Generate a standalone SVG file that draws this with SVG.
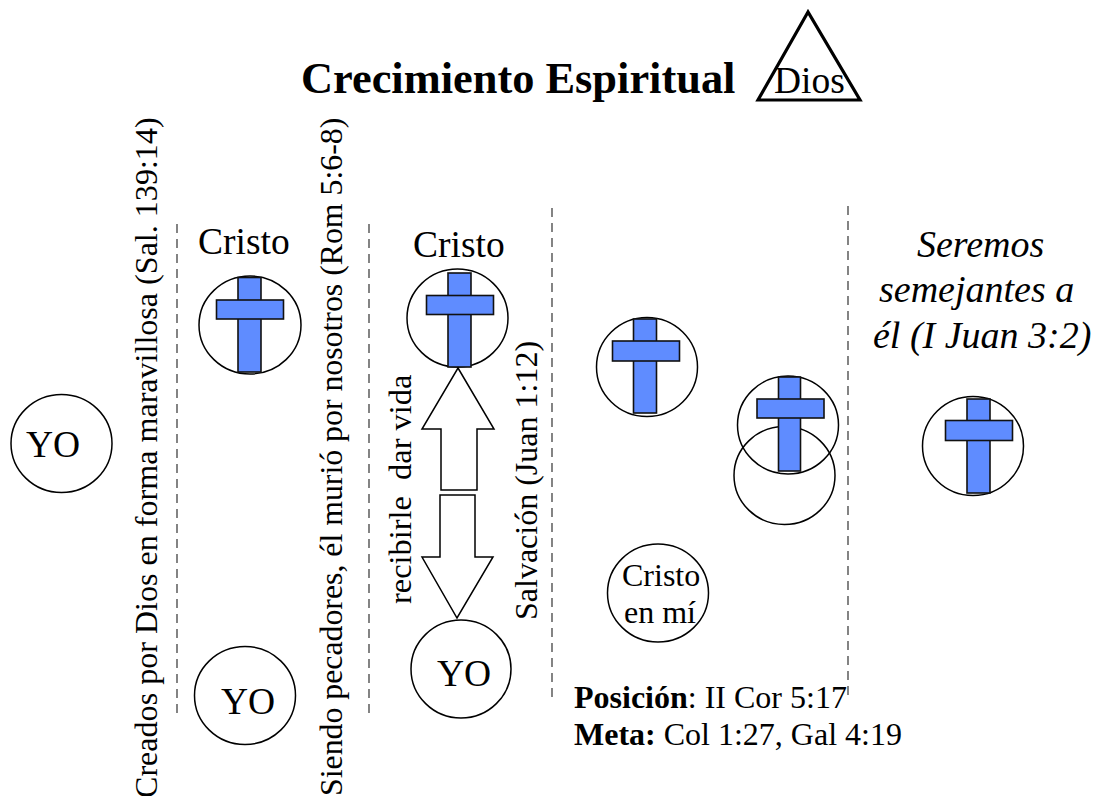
<svg xmlns="http://www.w3.org/2000/svg" width="1094" height="796" viewBox="0 0 1094 796">
<style>
text{font-family:"Liberation Serif","Times New Roman",serif;fill:#000}
.c{fill:none;stroke:#000;stroke-width:1.5}
.w{fill:#fff;stroke:#000;stroke-width:1.5}
.b{fill:#5f8cff;stroke:#111;stroke-width:1.6}
.d{fill:none;stroke:#333;stroke-width:1.2;stroke-dasharray:9 6}
.l{font-size:37.500px}
.s{font-size:32px}
.v{font-size:32px}
.i{font-size:38px;font-style:italic}
.r{font-size:32px}
</style>
<g id="title">
<text x="301" y="93" font-size="44.400" font-weight="bold">Crecimiento Espiritual</text>
</g>
<g id="dios">
<polygon points="808,12 758,100 860,100" fill="none" stroke="#000" stroke-width="3.2"/>
<text x="774" y="93" font-size="37.500">Dios</text>
</g>
<g id="connectors">
<line class="d" x1="177" y1="224" x2="177" y2="714"/>
<line class="d" x1="369" y1="224" x2="369" y2="716"/>
<line class="d" x1="552" y1="208" x2="552" y2="700"/>
<line class="d" x1="848" y1="206" x2="848" y2="695"/>
</g>
<g id="vtext">
<text class="v" style="font-size:32.100px" transform="translate(157,798) rotate(-90)">Creados por Dios en forma maravillosa (Sal. 139:14)</text>
<text class="v" style="font-size:31.800px" transform="translate(342,796) rotate(-90)">Siendo pecadores, él murió por nosotros (Rom 5:6-8)</text>
<text class="v" style="font-size:32.400px" transform="translate(411,604) rotate(-90)" xml:space="preserve">recibirle  dar vida</text>
<text class="v" transform="translate(537,620) rotate(-90)">Salvación (Juan 1:12)</text>
</g>
<g id="yo1"><ellipse class="c" cx="61.500" cy="443.500" rx="50.500" ry="49"/><text class="l" x="26" y="457">YO</text></g>
<g id="yo2"><ellipse class="c" cx="245" cy="695.500" rx="50.500" ry="49"/><text class="l" x="221" y="714">YO</text></g>
<g id="cristo1">
<text class="l" x="198" y="254">Cristo</text>
<ellipse class="c" cx="250" cy="325" rx="51" ry="49"/>
<rect class="b" x="238" y="277.500" width="23" height="94.500"/><rect class="b" x="216.500" y="300" width="67" height="19"/>
</g>
<g id="cristo2">
<text class="l" x="413" y="257">Cristo</text>
<ellipse class="c" cx="457.500" cy="318" rx="50.500" ry="49"/>
<rect class="b" x="448" y="273" width="23" height="94"/><rect class="b" x="426.500" y="295.500" width="67" height="19"/>
</g>
<g id="arrow-up"><polygon class="w" points="458,368 494,429 477,429 477,490 441,490 441,429 422,429"/></g>
<g id="arrow-down"><polygon class="w" points="440,495 475,495 475,557 493,557 457,618 422,557 440,557"/></g>
<g id="yo3"><ellipse class="c" cx="461" cy="669" rx="50" ry="49"/><text class="l" x="437" y="686">YO</text></g>
<g id="cruz3">
<ellipse class="c" cx="647" cy="367" rx="50.500" ry="49.500"/>
<rect class="b" x="633.500" y="319" width="23" height="94"/><rect class="b" x="612.500" y="341" width="67" height="20"/>
</g>
<g id="cruz4">
<ellipse class="c" cx="784.500" cy="475.500" rx="50.500" ry="49"/>
<ellipse class="c" cx="788" cy="425" rx="50.500" ry="49"/>
<rect class="b" x="778.500" y="377" width="22" height="94"/><rect class="b" x="757" y="399" width="67" height="19"/>
</g>
<g id="cristo-en-mi">
<ellipse class="c" cx="658" cy="593" rx="50.500" ry="49"/>
<text class="s" x="622" y="586">Cristo</text>
<text class="s" x="624" y="623">en mí</text>
</g>
<g id="refs">
<text class="r" x="574" y="708"><tspan font-weight="bold">Posición</tspan>: II Cor 5:17</text>
<text class="r" x="574" y="745"><tspan font-weight="bold">Meta:</tspan> Col 1:27, Gal 4:19</text>
</g>
<g id="semejantes">
<text class="i" x="917" y="257">Seremos</text>
<text class="i" x="879" y="302">semejantes a</text>
<text class="i" x="873" y="348">él (I Juan 3:2)</text>
</g>
<g id="cruz5">
<ellipse class="c" cx="973" cy="446" rx="50.500" ry="49.500"/>
<rect class="b" x="967" y="399" width="23" height="94"/><rect class="b" x="945.500" y="420.500" width="67" height="20"/>
</g>
</svg>
